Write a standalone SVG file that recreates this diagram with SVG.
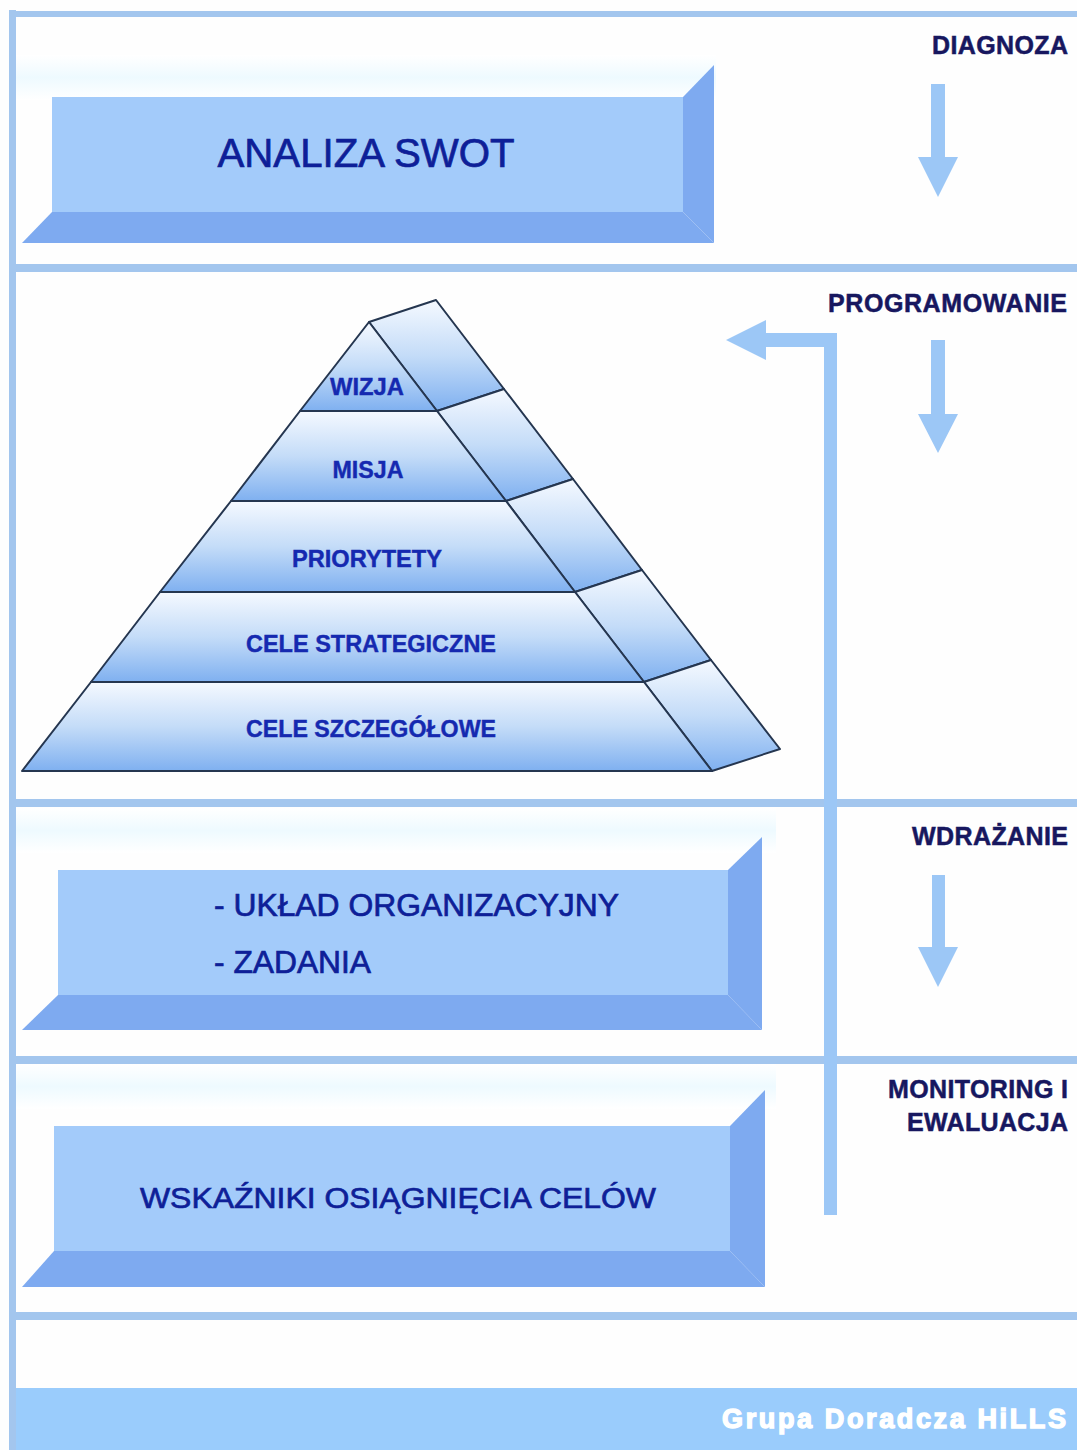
<svg xmlns="http://www.w3.org/2000/svg" width="1077" height="1450" viewBox="0 0 1077 1450">
<defs>
<linearGradient id="pg" x1="0" y1="0" x2="0" y2="1">
<stop offset="0" stop-color="#f5f9ff"/>
<stop offset="0.5" stop-color="#c4dcf8"/>
<stop offset="1" stop-color="#7fb0f0"/>
</linearGradient>
<linearGradient id="bgband" x1="0" y1="0" x2="0" y2="1">
<stop offset="0" stop-color="#ffffff"/>
<stop offset="0.5" stop-color="#eefaff"/>
<stop offset="1" stop-color="#ffffff"/>
</linearGradient>
</defs>
<style>
.sep{fill:#a3c6ee}
.face{fill:#a3cbfa}
.shade{fill:#7eaaf0}
.arrow{fill:#9cc7f6}
.lbl{font-family:"Liberation Sans",Arial,sans-serif;font-weight:bold;font-size:25px;fill:#17175f;stroke:#17175f;stroke-width:0.5;text-anchor:end}
.boxt{font-family:"Liberation Sans",Arial,sans-serif;fill:#0e1f98;stroke:#0e1f98;stroke-width:0.7}
.pyr{font-family:"Liberation Sans",Arial,sans-serif;font-weight:bold;font-size:23px;fill:#1529b0;stroke:#1529b0;stroke-width:0.4;text-anchor:middle}
.layer{fill:url(#pg);stroke:#253650;stroke-width:2;stroke-linejoin:round}
.foot{font-family:"Liberation Sans",Arial,sans-serif;font-weight:bold;font-size:27px;fill:#ffffff;stroke:#ffffff;stroke-width:1.4;text-anchor:end}
</style>
<rect x="0" y="0" width="1077" height="1450" fill="#fefefe"/>

<g id="frame">
<rect x="16" y="55" width="700" height="45" fill="url(#bgband)"/>
<rect x="16" y="808" width="760" height="45" fill="url(#bgband)"/>
<rect x="16" y="1064" width="760" height="45" fill="url(#bgband)"/>
<rect x="9" y="10" width="7" height="1440" class="sep"/>
<rect x="9" y="11" width="1068" height="6" class="sep"/>
<rect x="16" y="264" width="1061" height="8" class="sep"/>
<rect x="16" y="799" width="1061" height="8" class="sep"/>
<rect x="16" y="1056" width="1061" height="8" class="sep"/>
<rect x="16" y="1312" width="1061" height="8" class="sep"/>
<rect x="16" y="1388" width="1061" height="62" fill="#9accfc"/>
<text class="foot" x="1066" y="1428" textLength="344" lengthAdjust="spacing">Grupa Doradcza HiLLS</text>
</g>

<g id="stage-labels">
<text class="lbl" x="1068" y="54" textLength="136" lengthAdjust="spacing">DIAGNOZA</text>
<text class="lbl" x="1067" y="312" textLength="239" lengthAdjust="spacing">PROGRAMOWANIE</text>
<text class="lbl" x="1068" y="845" textLength="156" lengthAdjust="spacing">WDRAŻANIE</text>
<text class="lbl" x="1068" y="1098" textLength="180" lengthAdjust="spacing">MONITORING I</text>
<text class="lbl" x="1068" y="1131" textLength="161" lengthAdjust="spacing">EWALUACJA</text>
</g>

<g id="swot">
<polygon class="shade" points="683,97 714,65 714,243 683,212"/>
<polygon class="shade" points="52,212 683,212 714,243 22,243"/>
<rect class="face" x="52" y="97" width="631" height="115"/>
<text class="boxt" x="366" y="167" font-size="40" text-anchor="middle" textLength="297" lengthAdjust="spacingAndGlyphs">ANALIZA SWOT</text>
</g>

<g id="pyramid">
<polygon class="layer" points="369,322 436,300 504,389 437,411"/>
<polygon class="layer" points="437,411 504,389 573,479 506,501"/>
<polygon class="layer" points="506,501 573,479 642,570 575,592"/>
<polygon class="layer" points="575,592 642,570 711,660 644,682"/>
<polygon class="layer" points="644,682 711,660 780,749 712,771"/>
<polygon class="layer" points="369,322 437,411 300,411"/>
<polygon class="layer" points="300,411 437,411 506,501 231,501"/>
<polygon class="layer" points="231,501 506,501 575,592 160,592"/>
<polygon class="layer" points="160,592 575,592 644,682 91,682"/>
<polygon class="layer" points="91,682 644,682 712,771 22,771"/>
<text class="pyr" x="367" y="395" textLength="74" lengthAdjust="spacingAndGlyphs">WIZJA</text>
<text class="pyr" x="368" y="478" textLength="71" lengthAdjust="spacingAndGlyphs">MISJA</text>
<text class="pyr" x="367" y="567" textLength="150" lengthAdjust="spacingAndGlyphs">PRIORYTETY</text>
<text class="pyr" x="371" y="652" textLength="250" lengthAdjust="spacingAndGlyphs">CELE STRATEGICZNE</text>
<text class="pyr" x="371" y="737" textLength="250" lengthAdjust="spacingAndGlyphs">CELE SZCZEGÓŁOWE</text>
</g>

<g id="wdrazanie-box">
<polygon class="shade" points="728,870 762,837 762,1030 728,995"/>
<polygon class="shade" points="58,995 728,995 762,1030 22,1030"/>
<rect class="face" x="58" y="870" width="670" height="125"/>
<text class="boxt" x="214" y="916" font-size="31" textLength="405" lengthAdjust="spacingAndGlyphs">- UKŁAD ORGANIZACYJNY</text>
<text class="boxt" x="214" y="973" font-size="31" textLength="157" lengthAdjust="spacingAndGlyphs">- ZADANIA</text>
</g>

<g id="wskazniki-box">
<polygon class="shade" points="730,1126 765,1090 765,1287 730,1251"/>
<polygon class="shade" points="54,1251 730,1251 765,1287 22,1287"/>
<rect class="face" x="54" y="1126" width="676" height="125"/>
<text class="boxt" x="398" y="1208" font-size="30" text-anchor="middle" textLength="516" lengthAdjust="spacingAndGlyphs">WSKAŹNIKI OSIĄGNIĘCIA CELÓW</text>
</g>

<g id="connectors">
<polygon class="arrow" points="931,84 945,84 945,157 958,157 938,197 918,157 931,157"/>
<polygon class="arrow" points="931,340 945,340 945,414 958,414 938,453 918,414 931,414"/>
<polygon class="arrow" points="932,875 945,875 945,947 958,947 938,987 918,947 932,947"/>
<polygon class="arrow" points="837,333 837,1215 824,1215 824,347 766,347 766,360 726,340 766,320 766,333"/>
</g>
</svg>
